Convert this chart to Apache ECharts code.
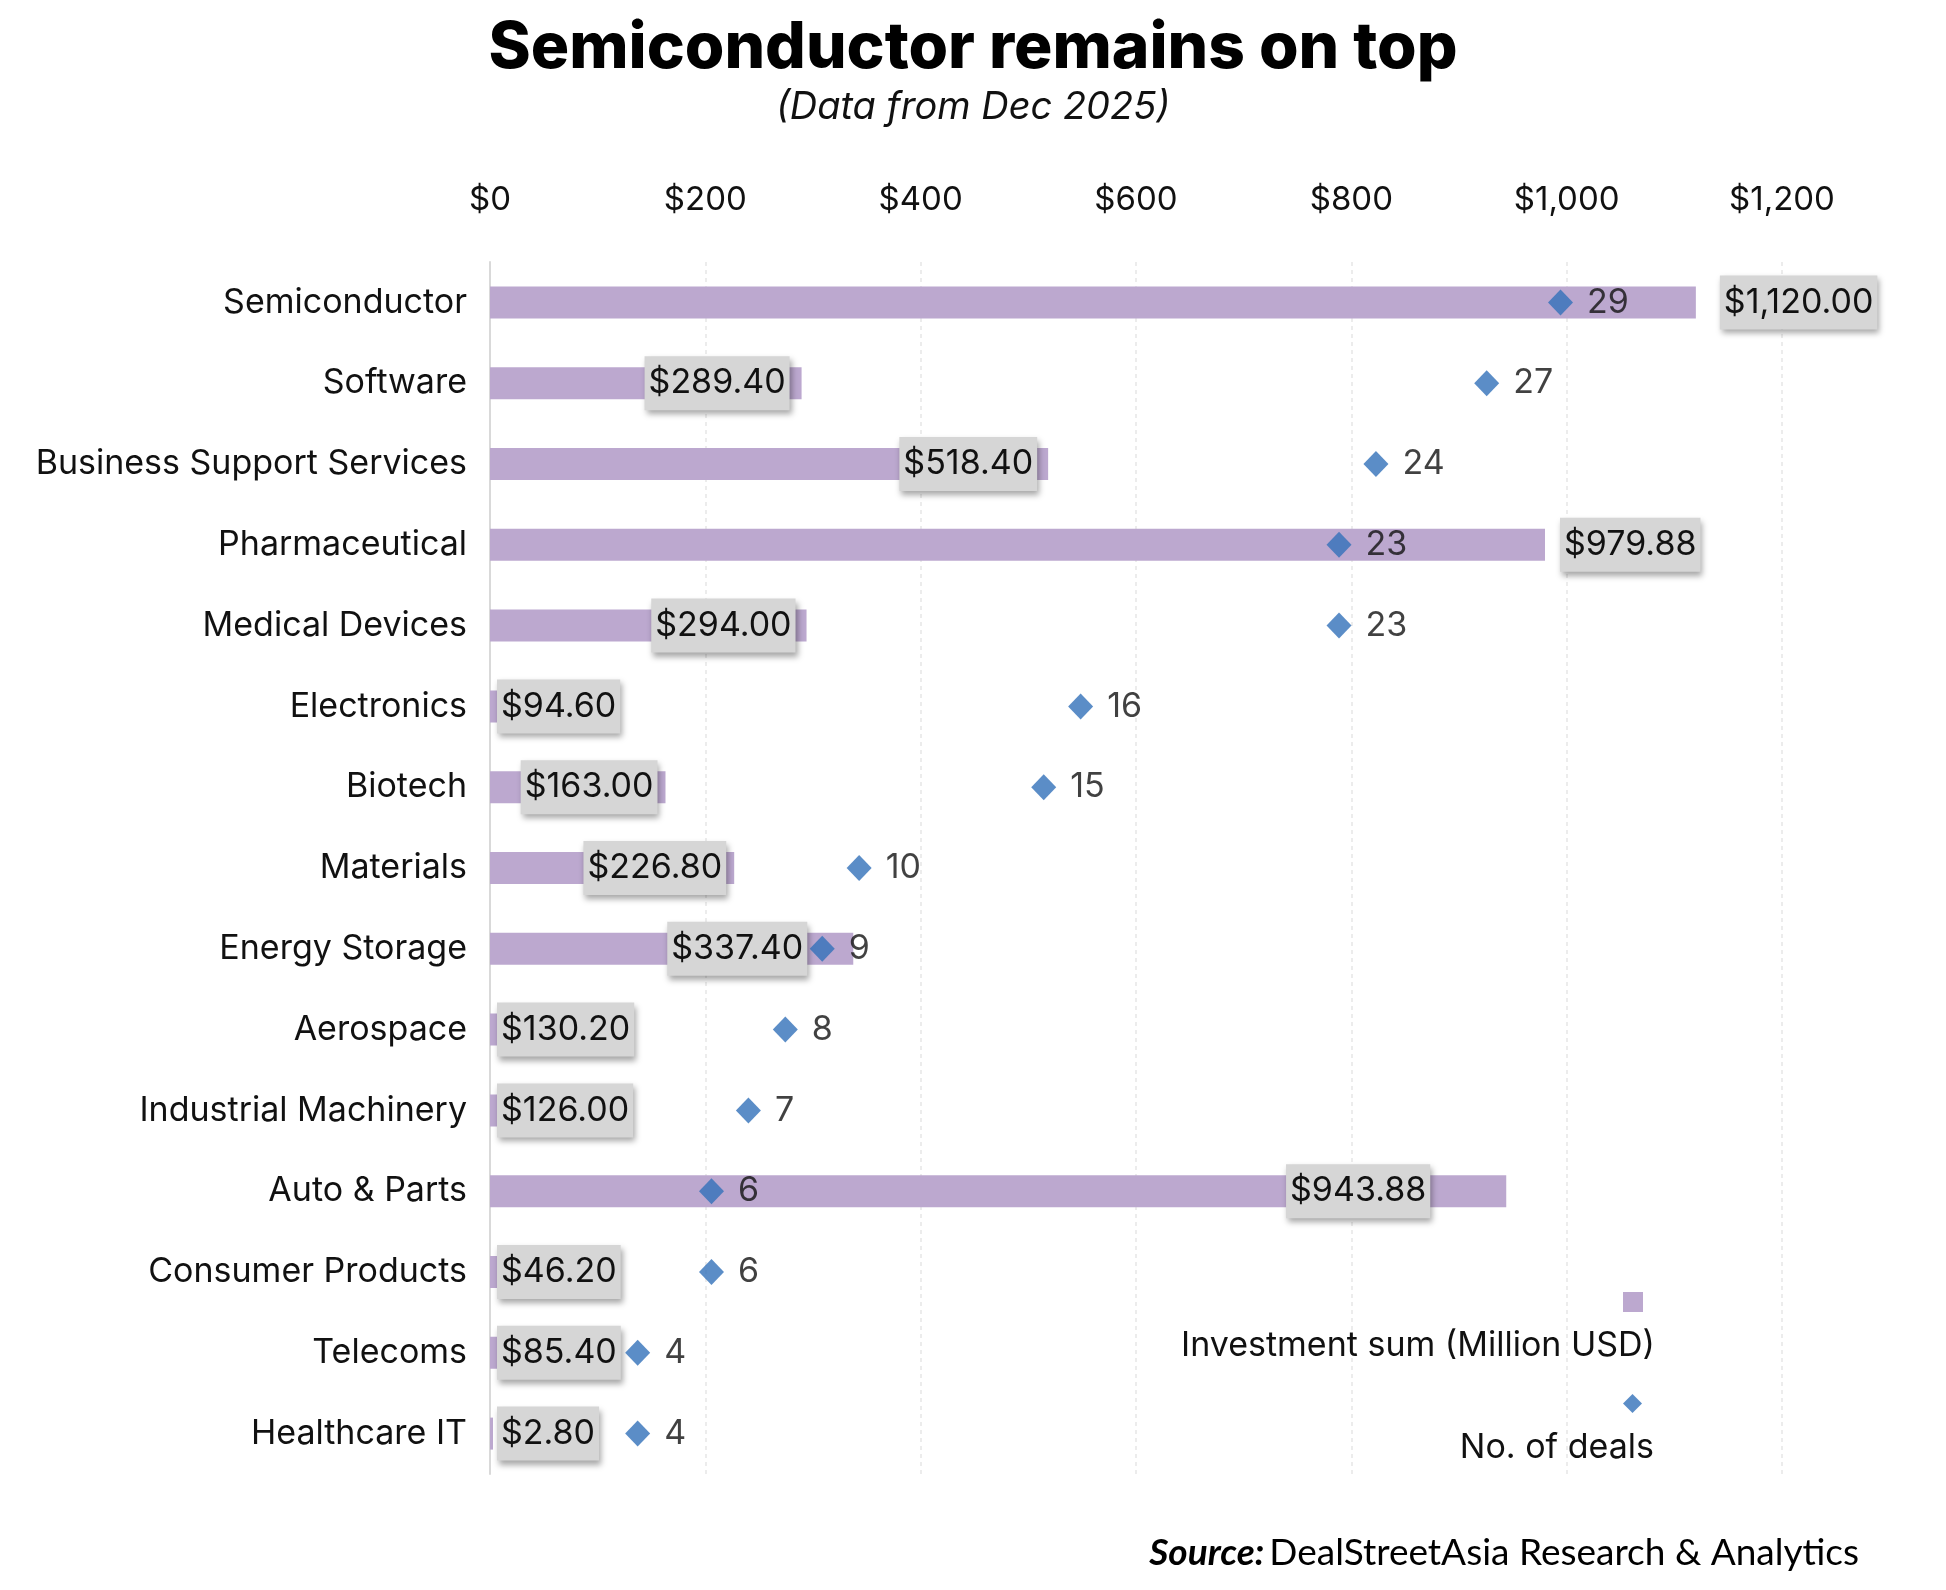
<!DOCTYPE html>
<html>
<head>
<meta charset="utf-8">
<script src="https://cdn.jsdelivr.net/npm/echarts@6/dist/echarts.min.js"></script>
<style>
html,body{margin:0;padding:0;background:#fff;}
#chart{width:1946px;height:1590px;}
</style>
</head>
<body>
<div id="chart"></div>
<script>
const categories = ['Semiconductor','Software','Business Support Services','Pharmaceutical','Medical Devices','Electronics','Biotech','Materials','Energy Storage','Aerospace','Industrial Machinery','Auto & Parts','Consumer Products','Telecoms','Healthcare IT'];
const investmentSum = [1120.00, 289.40, 518.40, 979.88, 294.00, 94.60, 163.00, 226.80, 337.40, 130.20, 126.00, 943.88, 46.20, 85.40, 2.80];
const dealCount = [29, 27, 24, 23, 23, 16, 15, 10, 9, 8, 7, 6, 6, 4, 4];
const xTickLabels = ['$0','$200','$400','$600','$800','$1,000','$1,200'];

// label placement per category (style only)
const labelPlacement = {
  'Semiconductor': ['right', 24],
  'Pharmaceutical': ['right', 15],
  'Software': ['insideRight', 12],
  'Business Support Services': ['insideRight', 11],
  'Medical Devices': ['insideRight', 11],
  'Biotech': ['insideRight', 8],
  'Materials': ['insideRight', 8],
  'Energy Storage': ['insideRight', 46],
  'Auto & Parts': ['insideRight', 76]
};

const FONT = 'Inter';
const chart = echarts.init(document.getElementById('chart'), null, {renderer: 'canvas'});

const barData = investmentSum.map((v, i) => {
  const p = labelPlacement[categories[i]] || ['insideLeft', 7];
  return { value: v, label: { position: p[0], distance: p[1] } };
});

const legendText = (pad) => ({
  fontFamily: FONT, fontSize: 34, color: '#111',
  rich: { t: { fontFamily: FONT, fontSize: 34, color: '#111' } },
  padding: pad
});

const option = {
  backgroundColor: '#ffffff',
  animation: false,
  title: [
    { text: 'Semiconductor remains on top', left: 'center', top: 12,
      textStyle: { fontFamily: FONT, fontWeight: 800, fontSize: 64, color: '#000' } },
    { text: '(Data from Dec 2025)', left: 'center', top: 84,
      textStyle: { fontFamily: FONT, fontStyle: 'italic', fontWeight: 400, fontSize: 38, color: '#111' } },
    { text: '{b|Source:} {r|DealStreetAsia Research & Analytics}', right: 82, top: 1530,
      textStyle: { rich: {
        b: { fontFamily: 'Lato', fontWeight: 'bold', fontStyle: 'italic', fontSize: 37, color: '#000' },
        r: { fontFamily: 'Lato', fontWeight: 'normal', fontSize: 37, color: '#000' } } } }
  ],
  legend: [
    { data: [{ name: 'Investment sum (Million USD)', icon: 'rect' }],
      right: 291, top: 1292, padding: 0, align: 'right', itemWidth: 20, itemHeight: 20,
      selectedMode: false, formatter: n => '{t|' + n + '}',
      textStyle: legendText([88, -37, 0, 0]) },
    { data: [{ name: 'No. of deals', icon: 'diamond' }],
      right: 292, top: 1394, padding: 0, align: 'right', itemWidth: 19, itemHeight: 19,
      selectedMode: false, formatter: n => '{t|' + n + '}',
      textStyle: legendText([88, -36, 0, 0]) }
  ],
  grid: { left: 490, right: 164, top: 262, bottom: 116, containLabel: false },
  xAxis: [
    { type: 'value', position: 'top', min: 0, max: 1200, interval: 200,
      axisLine: { show: false }, axisTick: { show: false },
      splitLine: { show: true, lineStyle: { color: '#e6e6e6', type: [4, 4], width: 1.5 } },
      axisLabel: { margin: 45, fontFamily: FONT, fontSize: 33, color: '#111',
        formatter: v => xTickLabels[Math.round(v / 200)] } },
    { type: 'value', position: 'top', min: 0, max: 35, show: false }
  ],
  yAxis: {
    type: 'category', data: categories, inverse: true,
    axisLine: { show: true, lineStyle: { color: '#d9d9d9', width: 2 } },
    axisTick: { show: false },
    axisLabel: { margin: 23, fontFamily: FONT, fontSize: 34, color: '#111' }
  },
  series: [
    { name: 'Investment sum (Million USD)', type: 'bar', xAxisIndex: 0, data: barData,
      barWidth: 32, itemStyle: { color: '#bca8cf' },
      label: { show: true, fontFamily: FONT, fontSize: 34, color: '#111',
        backgroundColor: '#d6d6d6', padding: [11, 4, 9, 4],
        shadowColor: 'rgba(0,0,0,0.35)', shadowBlur: 6, shadowOffsetX: 2, shadowOffsetY: 4,
        formatter: p => '$' + p.value.toLocaleString('en-US', { minimumFractionDigits: 2, maximumFractionDigits: 2 }) },
      z: 2 },
    { name: 'No. of deals', type: 'scatter', xAxisIndex: 1, symbol: 'diamond', symbolSize: [25, 26],
      data: dealCount, itemStyle: { color: '#3270b9' },
      label: { show: true, position: 'right', distance: 14, fontFamily: FONT, fontSize: 34, color: '#111' },
      z: 3 }
  ]
};
chart.setOption(option);
</script>
</body>
</html>
